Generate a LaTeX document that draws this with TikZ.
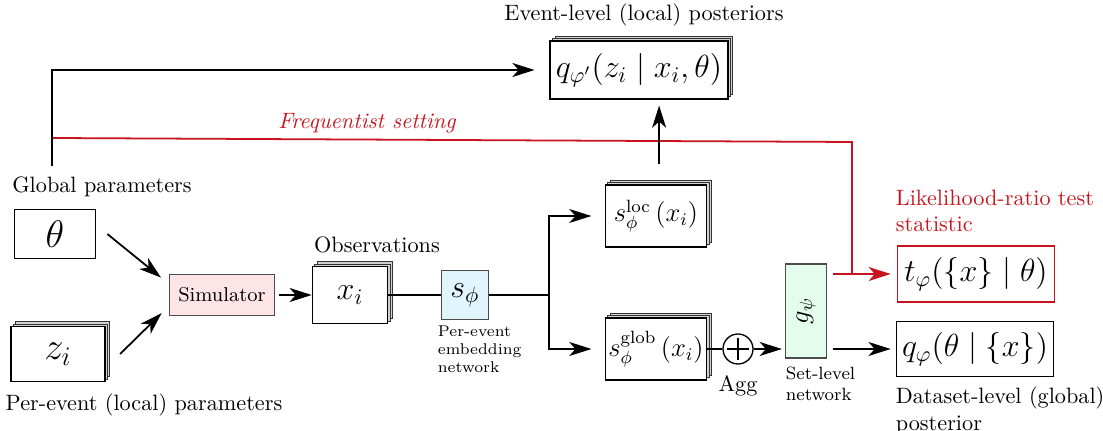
\documentclass[tikz,border=0pt]{standalone}
\usetikzlibrary{arrows.meta, positioning, shadows}
\usepackage{xcolor}
\usepackage{mathtools}
\usepackage{graphicx}

\definecolor{simred}{RGB}{253,228,230}
\definecolor{embblue}{RGB}{225,245,253}
\definecolor{setgreen}{RGB}{228,252,236}
\definecolor{freqred}{RGB}{200,20,30}

\begin{document}
\begin{tikzpicture}[x=0.45pt, y=-0.45pt, thick, >={Stealth[length=10pt,width=6.3pt,inset=2.8pt]}]
    \tikzstyle{box}=[draw=black, semithick, fill=white, inner sep=0pt]
    \tikzstyle{stack}=[box, double copy shadow={shadow xshift=1.1pt, shadow yshift=1.1pt, fill=gray!35, draw=black!80, thin}]
    \tikzstyle{net}=[draw=black!70, semithick, inner sep=0pt]
    \tikzstyle{freq}=[draw=freqred, thick]
    \tikzstyle{annot}=[align=left, anchor=north west, inner sep=0pt]

    \useasboundingbox (0,0) rectangle (1103,431);

    \node[box, minimum width=36.5pt, minimum height=22pt] (theta) at (55,234) {\LARGE $\theta$};
    \node[stack, minimum width=42.3pt, minimum height=24.8pt] (z-i) at (58,354) {\LARGE $z_i$};

    \node[net, fill=simred, minimum width=47.3pt, minimum height=18.5pt] (sim) at (222,295) {\small Simulator};
    \node[stack, minimum width=33.8pt, minimum height=25.7pt] (x-i) at (350,295) {\Large $x_i$};
    \node[net, fill=embblue, minimum width=21.2pt, minimum height=22pt] (s-phi) at (465,295) {\Large $s_\phi$};

    \node[stack, minimum width=45.5pt, minimum height=28pt] (s-loc) at (656,216) {\large $s_{\phi}^{\mathrm{loc}}\left(x_i\right)$};
    \node[stack, minimum width=45.5pt, minimum height=28pt] (s-glob) at (656,349) {\large $s_{\phi}^{\mathrm{glob}}\left(x_i\right)$};
    \node[circle, draw=black, semithick, minimum size=13.5pt, inner sep=0pt] (agg) at (738,349) {};
    \node[net, fill=setgreen, minimum width=18.5pt, minimum height=42.3pt] (g-psi) at (806,311) {\rotatebox{90}{\large $g_\psi$}};

    \node[box, draw=freqred, minimum width=70.7pt, minimum height=25.2pt] (t-stat) at (976,274) {\Large $t_\varphi(\{x\} \mid \theta)$};
    \node[box, minimum width=70.7pt, minimum height=24.8pt] (q-glob) at (975,349) {\Large $q_\varphi(\theta \mid \{x\})$};
    \node[stack, minimum width=80pt, minimum height=26pt] (q-loc) at (639,70) {\Large $q_{\varphi'}(z_i \mid x_i, \theta)$};

    \node (glob-lbl) at (102,187) {Global parameters};
    \node (loc-lbl) at (144,405) {Per-event (local) parameters};
    \node (obs-lbl) at (377,245) {Observations};
    \node (post-lbl) at (644,15) {Event-level (local) posteriors};
    \node[below=1pt of agg] (agg-lbl) {Agg};
    \node[annot, font=\scriptsize] (emb-lbl) at (437,325) {Per-event\\embedding\\network};
    \node[annot, font=\footnotesize] (set-lbl) at (785,366) {Set-level\\network};
    \node[annot, text=freqred] (lr-lbl) at (895,189) {Likelihood-ratio test\\statistic};
    \node[annot] (ds-lbl) at (895,386) {Dataset-level (global)\\posterior};
    \node[text=freqred, font=\itshape] (freq-lbl) at (367,123) {Frequentist setting};

    \coordinate (gtop) at (52,166);
    \coordinate (fstart) at (52,138);
    \coordinate (fcorner) at (852,142);
    \coordinate (split) at (549,295);

    % frequentist branch
    \draw[freq, ->, shorten >=2.7pt] (fstart) -- (fcorner) |- (t-stat);
    \draw[freq] ([xshift=2.7pt]g-psi.east |- t-stat) -- (fcorner |- t-stat);

    \draw[->, shorten >=6.7pt] (gtop) |- (q-loc);
    \draw[->, shorten <=9pt, shorten >=2.7pt] ([xshift=1.4pt]s-loc.north) -- ([xshift=1.4pt]s-loc.north |- q-loc.south);

    \draw[->, shorten >=4.5pt] ([xshift=5pt]theta.east) -- ([yshift=5pt]sim.west);
    \draw[->, shorten >=4.5pt] ([xshift=6.5pt]z-i.east) -- ([yshift=-5pt]sim.west);
    \draw[->, shorten <=1.8pt] (sim) -- (x-i);
    \draw (x-i) -- (s-phi);
    \draw (s-phi) -- (split);
    \draw[->, shorten >=6pt] (split) |- (s-loc);
    \draw[->, shorten >=6pt] (split) |- (s-glob);

    \draw (s-glob) -- (agg);
    \draw[semithick] ([yshift=-2pt]agg.north) -- ([yshift=2pt]agg.south);
    \draw[semithick] ([xshift=2pt]agg.west) -- ([xshift=-2pt]agg.east);
    \draw[->, shorten >=1.3pt] (agg) -- (agg -| g-psi.west);
    \draw[->, shorten <=2.7pt, shorten >=2.3pt] (g-psi.east |- q-glob) -- (q-glob);
\end{tikzpicture}
\end{document}
